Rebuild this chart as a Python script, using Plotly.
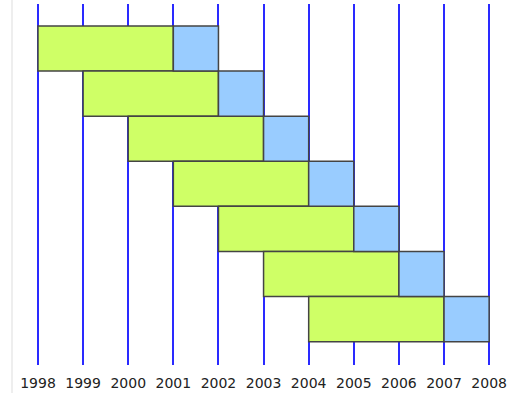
import plotly.graph_objects as go

rows = [0, 1, 2, 3, 4, 5, 6]
start_year = [1998, 1999, 2000, 2001, 2002, 2003, 2004]
green_end = [2001, 2002, 2003, 2004, 2005, 2006, 2007]
blue_end = [2002, 2003, 2004, 2005, 2006, 2007, 2008]
tick_years = [1998, 1999, 2000, 2001, 2002, 2003, 2004, 2005, 2006, 2007, 2008]

green_len = [g - s for g, s in zip(green_end, start_year)]
blue_len = [b - g for b, g in zip(blue_end, green_end)]

fig = go.Figure()
fig.add_trace(go.Bar(
    y=rows, x=green_len, base=start_year, orientation="h", width=1.0,
    marker=dict(color="#CFFF66", line=dict(color="#444444", width=1.5)),
    hoverinfo="skip", showlegend=False))
fig.add_trace(go.Bar(
    y=rows, x=blue_len, base=green_end, orientation="h", width=1.0,
    marker=dict(color="#99CCFF", line=dict(color="#444444", width=1.5)),
    hoverinfo="skip", showlegend=False))

fig.add_shape(type="line", xref="paper", yref="paper", x0=0, x1=0, y0=-0.1, y1=1.02,
              line=dict(color="#dddddd", width=1))

fig.update_layout(
    width=515, height=393,
    margin=dict(l=12, r=20, t=4, b=28),
    paper_bgcolor="white", plot_bgcolor="white",
    barmode="overlay",
    font=dict(family="DejaVu Sans", size=12, color="#222222"),
    xaxis=dict(range=[1997.424, 2008.13], tickvals=tick_years,
               ticktext=[str(y) for y in tick_years], automargin=False,
               tickfont=dict(family="DejaVu Sans", size=14, color="#222222"),
               showgrid=True, gridcolor="#2a2aff", gridwidth=1.5,
               zeroline=False, showline=False, ticks="", ticklabelstandoff=8),
    yaxis=dict(range=[7.017, -0.987], showticklabels=False, showgrid=False,
               zeroline=False, showline=False, automargin=False),
)
fig.write_html("out.html", post_script="document.body.style.margin='0px';",
               config={"displayModeBar": False})
